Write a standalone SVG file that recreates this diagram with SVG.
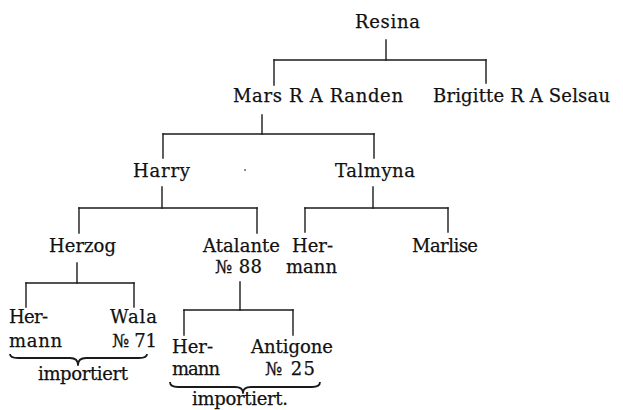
<svg xmlns="http://www.w3.org/2000/svg" width="623" height="410" viewBox="0 0 623 410">
<style>
text{font-family:"DejaVu Serif","Liberation Serif",serif;font-size:18px;fill:#111;stroke:#111;stroke-width:0.25}
.c line{stroke:#1a1a1a;stroke-width:1.4;stroke-linecap:square}
.brace{fill:none;stroke:#1a1a1a;stroke-width:1.8;stroke-linejoin:round}
</style>
<rect width="623" height="410" fill="#ffffff"/>
<g id="connectors" class="c">
<line x1="386" y1="40" x2="386" y2="60"/>
<line x1="274" y1="60" x2="486" y2="60"/>
<line x1="274" y1="60" x2="274" y2="85"/>
<line x1="486" y1="60" x2="486" y2="83"/>
<line x1="262" y1="115" x2="262" y2="134"/>
<line x1="163" y1="134" x2="374" y2="134"/>
<line x1="163" y1="134" x2="163" y2="158"/>
<line x1="374" y1="134" x2="374" y2="158"/>
<line x1="162" y1="187" x2="162" y2="208"/>
<line x1="79" y1="208" x2="257" y2="208"/>
<line x1="79" y1="208" x2="79" y2="233"/>
<line x1="257" y1="208" x2="257" y2="233"/>
<line x1="373" y1="187" x2="373" y2="208"/>
<line x1="305" y1="208" x2="448" y2="208"/>
<line x1="305" y1="208" x2="305" y2="232"/>
<line x1="448" y1="208" x2="448" y2="232"/>
<line x1="77" y1="263" x2="77" y2="283"/>
<line x1="26" y1="283" x2="134" y2="283"/>
<line x1="26" y1="283" x2="26" y2="307"/>
<line x1="134" y1="283" x2="134" y2="307"/>
<line x1="240" y1="282" x2="240" y2="310"/>
<line x1="184" y1="310" x2="293" y2="310"/>
<line x1="184" y1="310" x2="184" y2="335"/>
<line x1="293" y1="310" x2="293" y2="335"/>
</g>
<g id="resina"><text x="355" y="28" textLength="65">Resina</text></g>
<g id="mars"><text x="233" y="102" textLength="170">Mars R A Randen</text></g>
<g id="brigitte"><text x="433" y="102" textLength="177">Brigitte R A Selsau</text></g>
<g id="harry"><text x="133" y="177" textLength="57">Harry</text></g>
<g id="talmyna"><text x="335" y="177" textLength="80">Talmyna</text></g>
<g id="herzog"><text x="49" y="252" textLength="67">Herzog</text></g>
<g id="atalante"><text x="203" y="252" textLength="77">Atalante</text><text x="215" y="273" textLength="47">№ 88</text></g>
<g id="hermann1"><text x="292" y="252" textLength="41">Her-</text><text x="286" y="273" textLength="51">mann</text></g>
<g id="marlise"><text x="412" y="252" textLength="66">Marlise</text></g>
<g id="hermann2"><text x="9" y="323" textLength="39">Her-</text><text x="9" y="347" textLength="53">mann</text></g>
<g id="wala"><text x="110" y="323" textLength="47">Wala</text><text x="112" y="347" textLength="45">№ 71</text></g>
<g id="hermann3"><text x="172" y="353" textLength="41">Her-</text><text x="172" y="375" textLength="48">mann</text></g>
<g id="antigone"><text x="251" y="353" textLength="82">Antigone</text><text x="265" y="375" textLength="50">№ 25</text></g>
<g id="brace1">
<path class="brace" d="M10,354 Q10,358 18,358 L70,358 Q78,358 78,365 Q78,358 86,358 L139,358 Q147,358 147,354"/>
<text x="38" y="380" textLength="90">importiert</text>
</g>
<g id="brace2">
<path class="brace" d="M170,382 Q170,387 178,387 L235,387 Q243,387 243,393 Q243,387 251,387 L312,387 Q320,387 320,382"/>
<text x="192" y="405" textLength="96">importiert.</text>
</g>
<circle cx="245" cy="170" r="0.9" fill="#555"/>
</svg>
